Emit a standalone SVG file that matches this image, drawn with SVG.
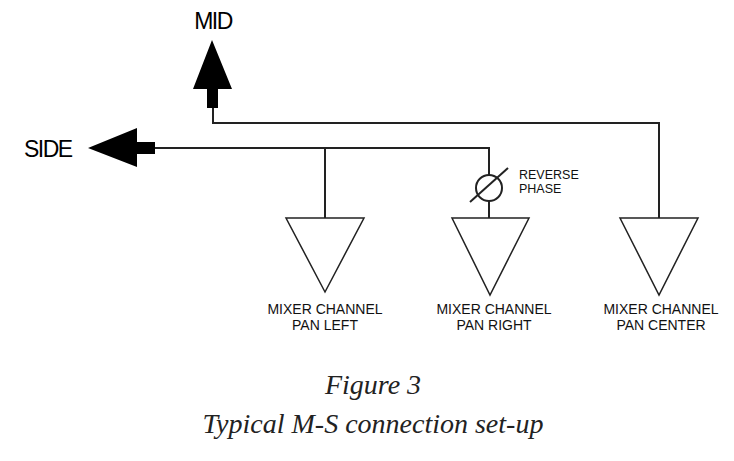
<svg xmlns="http://www.w3.org/2000/svg" width="734" height="461" viewBox="0 0 734 461">
<style>
.w{fill:none;stroke:#222;stroke-width:2}
.t{fill:#fff;stroke:#222;stroke-width:1.5}
.lb{font-family:"Liberation Sans",Arial,sans-serif;font-size:14px;fill:#111;text-anchor:middle}
.big{font-family:"Liberation Sans",Arial,sans-serif;font-size:23px;fill:#000;letter-spacing:-1.5px}
.cap{font-family:"Liberation Serif","Times New Roman",serif;font-style:italic;font-size:28px;fill:#222;text-anchor:middle}
</style>
<rect width="734" height="461" fill="#fff"/>
<g id="connectors">
<polyline class="w" points="213,108 213,123 659,123 659,218"/>
<polyline class="w" points="155,148 489,148 489,175"/>
<line class="w" x1="489" y1="201" x2="489" y2="218"/>
<line class="w" x1="325" y1="148" x2="325" y2="218"/>
</g>
<g id="mid">
<polygon points="212,40 232,89 218,89 218,108 207,108 207,89 193,89" fill="#000"/>
<text class="big" x="213" y="29" text-anchor="middle">MID</text>
</g>
<g id="side">
<polygon points="88,148 137,128 137,142 155,142 155,154 137,154 137,167" fill="#000"/>
<text class="big" x="24" y="157">SIDE</text>
</g>
<g id="phase">
<circle cx="489" cy="188" r="13" fill="none" stroke="#222" stroke-width="2"/>
<line x1="470" y1="202" x2="508" y2="168" stroke="#222" stroke-width="2"/>
<text class="lb" x="519" y="179" style="text-anchor:start;font-size:12.5px">REVERSE</text>
<text class="lb" x="519" y="193" style="text-anchor:start;font-size:12.5px">PHASE</text>
</g>
<g id="left">
<polygon class="t" points="286,218 364,218 325,292"/>
<text class="lb" x="325" y="314">MIXER CHANNEL</text>
<text class="lb" x="325" y="330">PAN LEFT</text>
</g>
<g id="right">
<polygon class="t" points="452,218 529,218 490,295"/>
<text class="lb" x="494" y="314">MIXER CHANNEL</text>
<text class="lb" x="494" y="330">PAN RIGHT</text>
</g>
<g id="center">
<polygon class="t" points="620,218 698,218 659,295"/>
<text class="lb" x="661" y="314">MIXER CHANNEL</text>
<text class="lb" x="661" y="330">PAN CENTER</text>
</g>
<text class="cap" x="373" y="394">Figure 3</text>
<text class="cap" x="373" y="433">Typical M-S connection set-up</text>
</svg>
